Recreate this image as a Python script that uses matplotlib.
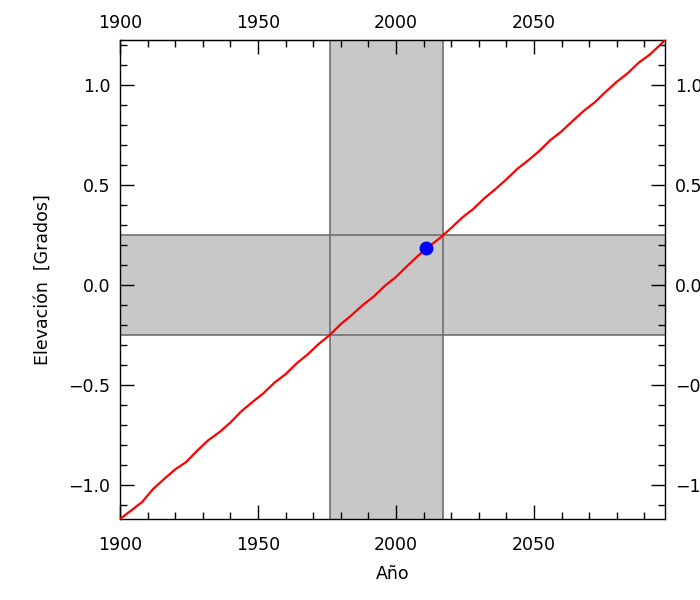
import numpy as np
import matplotlib
matplotlib.use('Agg')
import matplotlib.pyplot as plt
from matplotlib.ticker import MultipleLocator

# elevation track
years = [1900, 1904, 1908, 1912, 1916, 1920, 1924, 1928, 1932, 1936,
         1940, 1944, 1948, 1952, 1956, 1960, 1964, 1968, 1972, 1976,
         1980, 1984, 1988, 1992, 1996, 2000, 2004, 2008, 2012, 2016,
         2020, 2024, 2028, 2032, 2036, 2040, 2044, 2048, 2052, 2056,
         2060, 2064, 2068, 2072, 2076, 2080, 2084, 2088, 2092, 2096,
         2097.5]
elev = [-1.170, -1.128, -1.085, -1.020, -0.970, -0.922, -0.885, -0.828,
        -0.776, -0.736, -0.688, -0.631, -0.585, -0.541, -0.488, -0.446,
        -0.392, -0.347, -0.295, -0.250, -0.196, -0.150, -0.100, -0.057,
        -0.004, 0.040, 0.094, 0.146, 0.192, 0.236, 0.285, 0.337, 0.380,
        0.433, 0.479, 0.528, 0.581, 0.624, 0.671, 0.725, 0.768, 0.820,
        0.870, 0.913, 0.966, 1.016, 1.059, 1.112, 1.152, 1.204, 1.225]

# highlighted ranges and the current point
band_years = (1976, 2017)
band_elev = (-0.25, 0.25)
now_year, now_elev = 2011, 0.185

xmin, xmax = 1900, 2097.5
ymin, ymax = -1.17, 1.225

fig = plt.figure(figsize=(7, 6), dpi=100)
ax = fig.add_axes([120 / 700, 81 / 600, 545 / 700, 479 / 600])

ax.axvspan(band_years[0], band_years[1], facecolor='#c8c8c8',
           edgecolor='none', zorder=1)
ax.axhspan(band_elev[0], band_elev[1], facecolor='#c8c8c8',
           edgecolor='none', zorder=1)
for v in band_years:
    ax.axvline(v, color='#707070', lw=1.2, zorder=2)
for v in band_elev:
    ax.axhline(v, color='#707070', lw=1.2, zorder=2)

ax.plot(years, elev, color='red', lw=1.6, zorder=3)
ax.plot([now_year], [now_elev], 'o', color='blue', ms=9, zorder=4)

ax.set_xlim(xmin, xmax)
ax.set_ylim(ymin, ymax)
ax.xaxis.set_major_locator(MultipleLocator(50))
ax.xaxis.set_minor_locator(MultipleLocator(10))
ax.yaxis.set_major_locator(MultipleLocator(0.5))
ax.yaxis.set_minor_locator(MultipleLocator(0.1))
ax.yaxis.set_major_formatter(lambda v, p: ('%.1f' % v).replace('-', '\u2212'))

ax.tick_params(which='both', direction='in', top=True, right=True,
               labelright=True, width=1, labelsize=12.5)
ax.tick_params(which='major', length=10)
ax.tick_params(which='minor', length=5)
ax.tick_params(axis='x', pad=12)
ax.tick_params(axis='y', pad=7)
for s in ax.spines.values():
    s.set_linewidth(1)

# top labels sit closer to the frame than the bottom ones
top = ax.secondary_xaxis('top')
top.xaxis.set_major_locator(MultipleLocator(50))
top.tick_params(length=0, labelsize=12.5, pad=6)

ax.set_xlabel('Año', fontsize=12.5, labelpad=8)
ax.set_ylabel('Elevación  [Grados]', fontsize=12.5, labelpad=12)

fig.savefig('out.png', dpi=100)
